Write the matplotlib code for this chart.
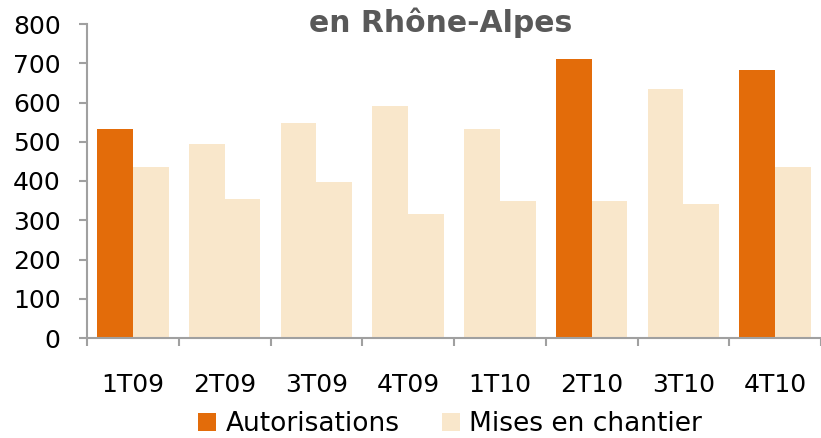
import matplotlib
matplotlib.use("Agg")
import matplotlib.pyplot as plt
from matplotlib.patches import Patch
import numpy as np

categories = ["1T09", "2T09", "3T09", "4T09", "1T10", "2T10", "3T10", "4T10"]
autorisations = [532, 494, 548, 591, 532, 711, 634, 683]
mises = [436, 354, 397, 316, 349, 349, 341, 436]
# Point colors as drawn in the reference (some Autorisations points shown pale)
auth_highlight = [True, False, False, False, False, True, False, True]

ORANGE = "#E36C0A"
PALE = "#F9E7CB"
AXIS = "#A0A0A0"

plt.rcParams['font.family'] = ['DejaVu Sans']

fig = plt.figure(figsize=(8.21, 4.38), dpi=100)
ax = fig.add_axes([87/821, 1-338/438, 734/821, (338-24)/438])

x = np.arange(len(categories))
w = 0.39
off = 0.195
ax.bar(x - off, autorisations, width=w,
       color=[ORANGE if h else PALE for h in auth_highlight], linewidth=0)
ax.bar(x + off, mises, width=w, color=PALE, linewidth=0)

ax.set_xlim(-0.5, len(categories) - 0.5)
ax.set_ylim(0, 800)
ax.set_yticks(range(0, 801, 100))
ax.tick_params(axis='y', labelsize=18, length=6, width=1.5, color=AXIS, pad=13, direction='out')

ax.set_xticks(x)
ax.set_xticklabels(categories)
ax.set_xticks(np.arange(-0.5, len(categories) - 0.4, 1), minor=True)
ax.tick_params(axis='x', which='major', length=0, labelsize=18, pad=25)
ax.tick_params(axis='x', which='minor', length=6, width=1.5, color=AXIS, direction='out')

for s in ['top', 'right']:
    ax.spines[s].set_visible(False)
for s in ['left', 'bottom']:
    ax.spines[s].set_color(AXIS)
    ax.spines[s].set_linewidth(1.5)

fig.text(0.537, 1 - 32/438, "en Rhône-Alpes", ha='center', va='baseline',
         fontsize=21.5, fontweight='bold', color='#595959')

handles = [Patch(facecolor=ORANGE, edgecolor='none', label='Autorisations'),
           Patch(facecolor=PALE, edgecolor='none', label='Mises en chantier')]
fig.legend(handles=handles, loc='center', bbox_to_anchor=(0.548, 1 - 424/438),
           ncol=2, frameon=False, fontsize=19, handlelength=0.7, handleheight=0.7,
           handletextpad=0.35, columnspacing=1.6, borderpad=0, borderaxespad=0)

fig.savefig("out.png", dpi=100)
